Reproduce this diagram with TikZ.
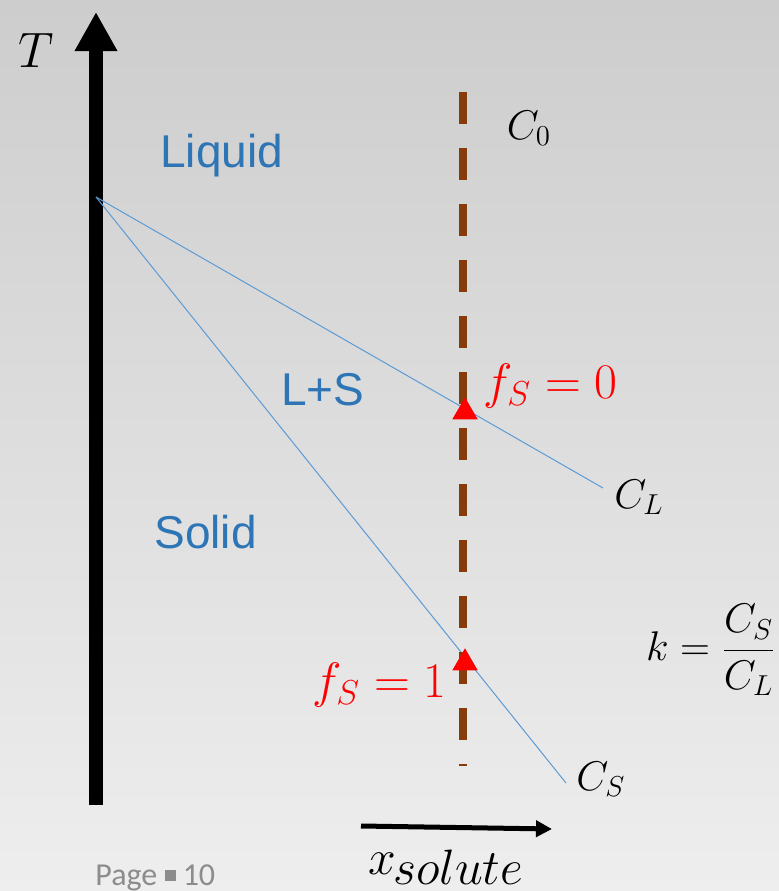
\documentclass[tikz,border=0pt]{standalone}
\usepackage{amsmath}
\usepackage{fontspec}
\newfontfamily\regionfont{Liberation Sans}
\newfontfamily\pagefont{Carlito}
\usetikzlibrary{arrows.meta,shapes.geometric}
\definecolor{regionblue}{HTML}{2E75B6}
\definecolor{lineblue}{HTML}{5B9BD5}
\definecolor{rust}{HTML}{843C0C}
\definecolor{bgtop}{HTML}{CDCDCD}
\definecolor{bgmid}{HTML}{E3E3E3}
\definecolor{bgbot}{HTML}{EEEEEE}
\definecolor{pagegray}{HTML}{8C8C8C}
\tikzset{
  taxis/.style={line width=7pt, -{Triangle[length=19.5pt,width=20pt]}},
  xaxis/.style={line width=2.5pt, -{Triangle[length=8pt,width=8pt]}},
  region/.style={font=\regionfont\fontsize{23}{27}\selectfont, text=regionblue, inner sep=0pt},
  phase/.style={lineblue, line width=0.5pt},
  comp/.style={rust, line width=4pt, dash pattern=on 16pt off 12pt},
  tri/.style={regular polygon, regular polygon sides=3, fill=red, draw=none, minimum size=14.7pt, inner sep=0pt},
  lbl/.style={font=\fontsize{22}{26}\selectfont, inner sep=0pt},
  biglbl/.style={font=\fontsize{24.5}{28}\selectfont, inner sep=0pt},
  fslbl/.style={biglbl, text=red}
}

\begin{document}
\begin{tikzpicture}[x=0.5pt, y=-0.5pt]
\useasboundingbox (0,0) rectangle (779,891);
\shade[top color=bgtop, middle color=bgmid, bottom color=bgbot] (0,0) rectangle (779,891);
% axes
\coordinate (tbase) at (96,805); \coordinate (ttip) at (96,12);
\draw[taxis] (tbase) -- (ttip);
\node[inner sep=0pt, font=\fontsize{40}{44}\selectfont] (tlabel) at (36,50) {$T$};
\coordinate (xfrom) at (361,826); \coordinate (xto) at (552,829);
\draw[xaxis] (xfrom) -- (xto);
\node[biglbl, anchor=base west] (xlabel) at (368,874) {$x\mkern-1mu\raisebox{-5pt}{$solute$}$};
% regions
\node[region, anchor=base west] (liquid) at (160,167) {Liquid};
\node[region, anchor=base west] (mushy) at (281,405) {L+S};
\node[region, anchor=base west] (solid) at (154,548) {Solid};
% liquidus and solidus
\coordinate (apex) at (96,197); \coordinate (lend) at (603,488); \coordinate (send) at (566,783);
\draw[phase] (apex) -- (lend);
\draw[phase] (apex) -- (send);
\node[lbl, anchor=base west] (cl) at (614,508) {$C_L$};
\node[lbl, anchor=base west] (cs) at (576,790) {$C_S$};
% alloy composition
\coordinate (ctop) at (463,92); \coordinate (cbot) at (463,766);
\draw[comp] (ctop) -- (cbot);
\node[lbl] (c0) at (529,128) {$C_0$};
\node[tri] (fs0) at (465,412) {};
\node[tri] (fs1) at (465,663) {};
\node[fslbl, anchor=base west] (fs0lbl) at (483,398) {$f_S=0$};
\node[fslbl, anchor=base east] (fs1lbl) at (447,697) {$f_S=1$};
\node[lbl, anchor=east] (kdef) at (776,650) {$k=\dfrac{C_S}{C_L}$};
% footer
\node[inner sep=0pt, anchor=base west, text=pagegray, font=\pagefont\fontsize{16}{18}\selectfont] (page) at (95,885) {Page \raisebox{1.8pt}{\rule{5.5pt}{5.5pt}} 10};
\end{tikzpicture}
\end{document}
